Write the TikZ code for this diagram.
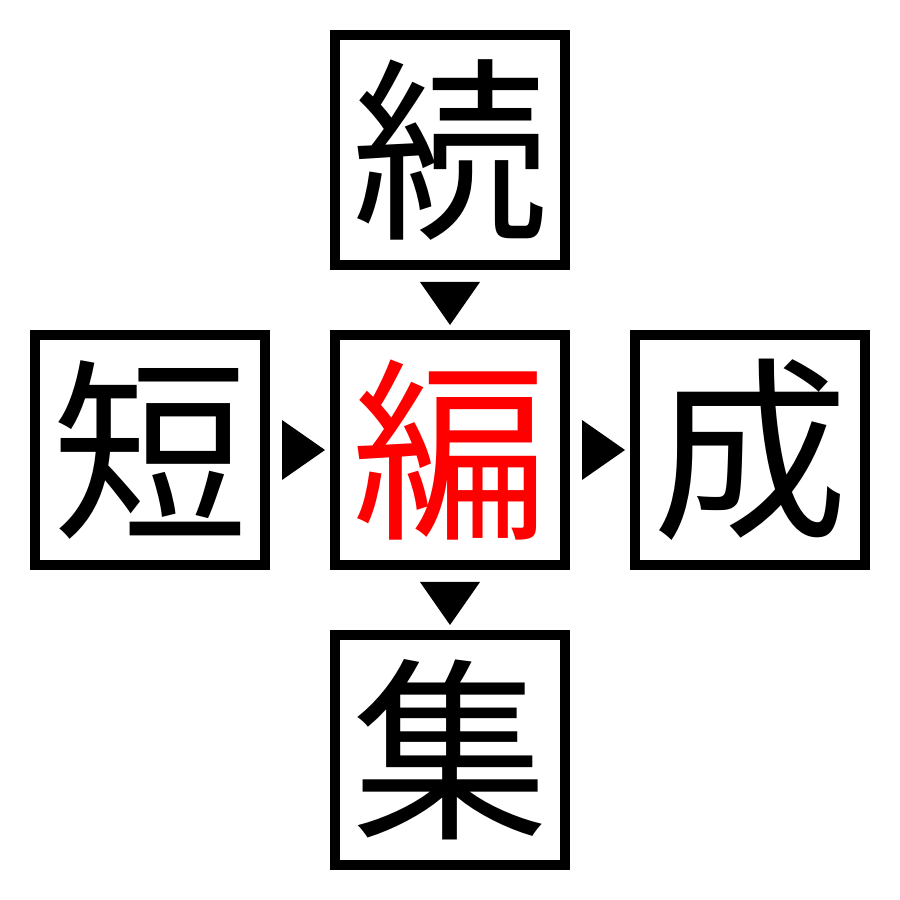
\documentclass[tikz,border=0pt]{standalone}
\usepackage{fontspec}
\newfontfamily\cjk{Noto Sans CJK JP}
\usetikzlibrary{calc}
\tikzset{
  kbox/.style={draw=black, line width=10pt, minimum width=230pt, minimum height=230pt, inner sep=0pt, font=\cjk\fontsize{196}{196}\selectfont, text=black},
  tri/.style={fill=black}
}
\begin{document}
\begin{tikzpicture}[x=1pt,y=1pt]
\useasboundingbox (0,0) rectangle (900,900);
\node[kbox] (t) at (450,750) {続};
\node[kbox] (l) at (150,450) {短};
\node[kbox, text=red] (m) at (450,450) {編};
\node[kbox] (r) at (750,450) {成};
\node[kbox] (b) at (450,150) {集};
% down triangles
\fill[tri] ($(t.south)+(-30,-12)$) -- ($(t.south)+(30,-12)$) -- ($(m.north)+(0,5)$) -- cycle;
\fill[tri] ($(m.south)+(-30,-12)$) -- ($(m.south)+(30,-12)$) -- ($(b.north)+(0,5)$) -- cycle;
% right triangles
\fill[tri] ($(l.east)+(12,30)$) -- ($(l.east)+(12,-30)$) -- ($(m.west)+(-5,0)$) -- cycle;
\fill[tri] ($(m.east)+(12,30)$) -- ($(m.east)+(12,-30)$) -- ($(r.west)+(-5,0)$) -- cycle;
\end{tikzpicture}
\end{document}
